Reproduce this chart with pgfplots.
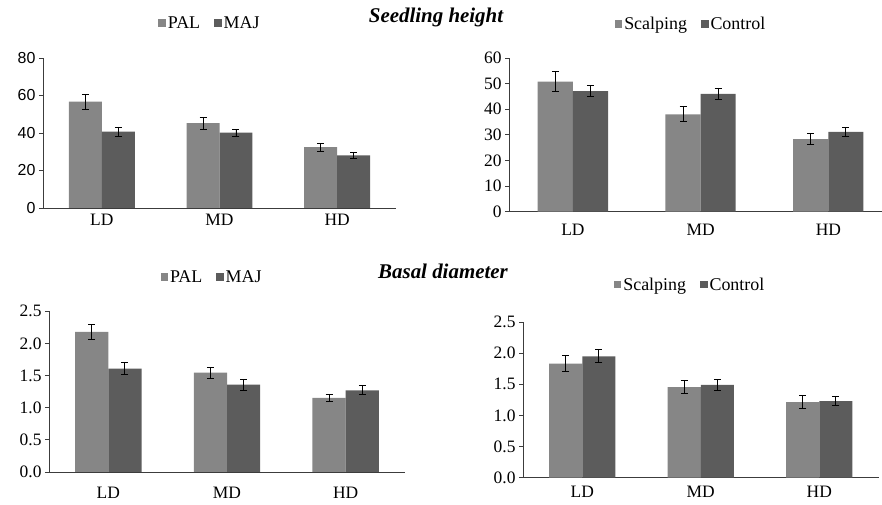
\documentclass[border=0pt]{standalone}
\usepackage{fontspec}
\setmainfont{Liberation Serif}
\newfontfamily\arialfont{Liberation Sans}
\usepackage{pgfplots}
\usepackage{pgfplotstable}
\pgfplotsset{compat=1.18}
\definecolor{lg}{RGB}{134,134,134}
\definecolor{dg}{RGB}{92,92,92}
\definecolor{ax}{RGB}{60,60,60}

\pgfplotstableread{
x a aerr b berr
0 56.7 4.0 40.7 2.5
1 45.2 3.2 40.2 1.8
2 32.4 2.0 28.1 1.5
}\tlA
\pgfplotstableread{
x a aerr b berr
0 50.8 3.9 47.1 2.3
1 38.0 2.9 46.0 2.3
2 28.3 2.1 31.2 1.7
}\trA
\pgfplotstableread{
x a aerr b berr
0 2.18 0.12 1.61 0.095
1 1.545 0.085 1.36 0.085
2 1.155 0.05 1.27 0.07
}\blA
\pgfplotstableread{
x a aerr b berr
0 1.83 0.13 1.95 0.107
1 1.456 0.107 1.49 0.085
2 1.215 0.10 1.23 0.07
}\brA

\pgfplotsset{
  panel/.style={
    scale only axis,
    anchor=south west,
    axis lines*=left,
    axis line style={ax, line width=0.9pt},
    xmin=-0.5, xmax=2.5, ymin=0,
    ybar, bar width=0.28,
    xtick={0,1,2}, xticklabels={LD,MD,HD},
    major x tick style={draw=none},
    extra x ticks={0.5,1.5,2.5}, extra x tick labels={},
    extra x tick style={major tick length=3bp, tick align=outside, tick style={ax, line width=0.9pt}},
    ytick align=outside,
    major y tick style={ax, line width=0.9pt},
    major tick length=4bp,
    tick label style={font=\fontsize{17.5}{20}\selectfont},
    /pgf/number format/assume math mode=true,
    legend columns=2,
    legend style={draw=none, fill=none, anchor=center, font=\fontsize{18}{21}\selectfont,
      /tikz/every even column/.append style={column sep=12bp},
      inner sep=0pt},
    legend image code/.code={\fill[##1] (0bp,-3.5bp) rectangle (7.5bp,4bp);},
    error bars/y dir=both, error bars/y explicit,
    error bars/error bar style={black, line width=0.9pt},
    error bars/error mark options={rotate=90, mark size=3.5bp, black, line width=0.9pt},
  },
  barA/.style={fill=lg, draw=none, bar shift=-0.14},
  barB/.style={fill=dg, draw=none, bar shift=0.14},
}

\begin{document}
\begin{tikzpicture}
\path[use as bounding box] (0bp,0bp) rectangle (882bp,505bp);

% top-left
\begin{axis}[panel, at={(43bp,297bp)}, width=353bp, height=150bp,
  ymax=80, ytick={0,20,40,60,80},
  yticklabel style={font=\arialfont\fontsize{16}{19}\selectfont},
  xticklabel style={yshift=1bp},
  legend style={at={(0.473,1.233)}}]
\addplot[barA] table[x=x,y=a,y error=aerr]{\tlA};
\addplot[barB] table[x=x,y=b,y error=berr]{\tlA};
\legend{PAL,MAJ}
\end{axis}

% top-right
\begin{axis}[panel, at={(509bp,293.3bp)}, width=373bp, height=153.7bp,
  xmax=2.42, bar width=0.275,
  extra x ticks={0.5,1.5},
  ymax=60, ytick={0,10,...,60},
  xticklabel style={yshift=-5bp},
  legend style={at={(0.488,1.221)}}]
\addplot[barA, bar shift=-0.1375] table[x=x,y=a,y error=aerr]{\trA};
\addplot[barB, bar shift=0.1375] table[x=x,y=b,y error=berr]{\trA};
\legend{Scalping,Control}
\end{axis}

% bottom-left
\begin{axis}[panel, at={(49bp,33bp)}, width=356bp, height=160.7bp,
  ymax=2.5, ytick={0,0.5,...,2.5},
  yticklabel style={/pgf/number format/.cd, fixed, fixed zerofill, precision=1},
  xticklabel style={yshift=-8bp},
  legend style={at={(0.458,1.213)}}]
\addplot[barA] table[x=x,y=a,y error=aerr]{\blA};
\addplot[barB] table[x=x,y=b,y error=berr]{\blA};
\legend{PAL,MAJ}
\end{axis}

% bottom-right
\begin{axis}[panel, at={(523bp,27.3bp)}, width=355.5bp, height=155.7bp,
  ymax=2.5, ytick={0,0.5,...,2.5},
  yticklabel style={/pgf/number format/.cd, fixed, fixed zerofill, precision=1},
  xticklabel style={yshift=-1bp},
  legend style={at={(0.47,1.238)}}]
\addplot[barA] table[x=x,y=a,y error=aerr]{\brA};
\addplot[barB] table[x=x,y=b,y error=berr]{\brA};
\legend{Scalping,Control}
\end{axis}

\node[font=\bfseries\itshape\fontsize{21}{24}\selectfont] at (436bp,488bp) {Seedling height};
\node[font=\bfseries\itshape\fontsize{21}{24}\selectfont] at (443bp,234bp) {Basal diameter};
\end{tikzpicture}
\end{document}
